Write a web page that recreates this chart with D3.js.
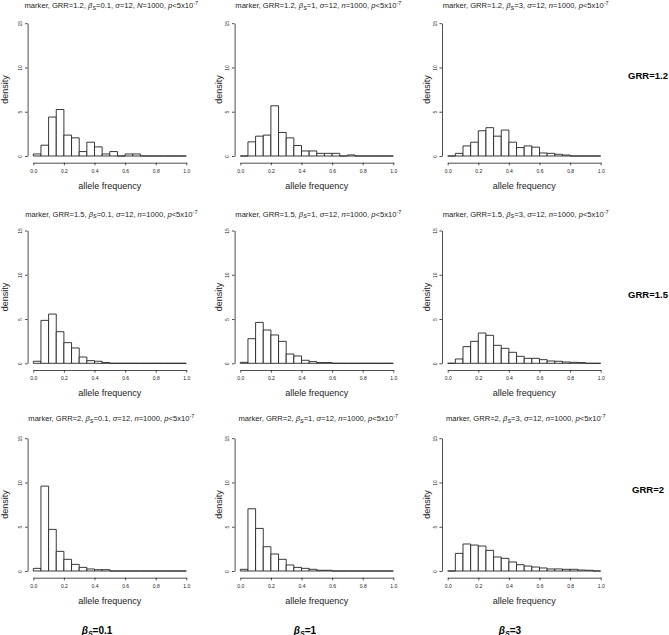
<!DOCTYPE html>
<html>
<head>
<meta charset="utf-8">
<script src="https://cdn.jsdelivr.net/npm/d3@7/dist/d3.min.js"></script>
<style>
  html, body { margin: 0; padding: 0; background: #fff; }
  svg { display: block; font-family: "Liberation Sans", Arial, Helvetica, sans-serif; }
</style>
</head>
<body>
<svg id="chart" width="669" height="635"></svg>
<script>
// ---- data ----
const breaks = [0,0.05,0.10,0.15,0.20,0.25,0.30,0.35,0.40,0.45,0.50,0.55,0.60,0.65,0.70,0.75,0.80,0.85,0.90,0.95,1.00];
const xTicks = [0.0,0.2,0.4,0.6,0.8,1.0];
const yTicks = [0,5,10,15];
const grrLevels = ["1.2","1.5","2"];
const betaLevels = ["0.1","1","3"];

const dens_GRR12_b01 = [0.23,1.22,4.40,5.25,2.36,2.05,0.50,1.56,1.03,0.23,0.50,0,0.23,0.23,0,0,0,0,0,0];
const dens_GRR12_b1  = [0,1.60,2.24,2.36,5.67,2.66,2.05,1.18,0.57,0.57,0.30,0.30,0.30,0,0.12,0,0,0,0,0];
const dens_GRR12_b3  = [0,0.30,1.14,1.56,2.85,3.20,2.24,2.93,1.56,0.95,1.14,1.00,0.34,0.30,0.19,0.11,0,0,0,0];
const dens_GRR15_b01 = [0.23,4.85,5.56,3.57,2.33,1.73,0.71,0.30,0.23,0.08,0,0,0,0,0,0,0,0,0,0];
const dens_GRR15_b1  = [0.11,2.78,4.62,3.76,3.20,2.48,1.05,0.83,0.34,0.19,0.08,0.08,0,0,0,0,0,0,0,0];
const dens_GRR15_b3  = [0,0.49,1.88,2.48,3.42,3.16,2.03,1.69,1.24,0.79,0.56,0.56,0.41,0.26,0.23,0.15,0.11,0.08,0,0];
const dens_GRR2_b01  = [0.30,9.59,4.70,2.22,1.32,0.75,0.41,0.23,0.15,0.15,0,0,0,0,0,0,0,0,0,0];
const dens_GRR2_b1   = [0.19,7.03,4.81,2.74,1.92,1.32,0.68,0.41,0.30,0.19,0.08,0.08,0,0,0,0,0,0,0,0];
const dens_GRR2_b3   = [0,1.99,3.05,2.93,2.82,2.33,1.58,1.43,1.02,0.71,0.56,0.45,0.34,0.23,0.23,0.19,0.19,0.11,0.08,0];

const panels = [
  [dens_GRR12_b01, dens_GRR12_b1, dens_GRR12_b3],
  [dens_GRR15_b01, dens_GRR15_b1, dens_GRR15_b3],
  [dens_GRR2_b01,  dens_GRR2_b1,  dens_GRR2_b3]
];

// ---- layout ----
const colX0 = [33.3, 240.3, 447.7];
const rowY0 = [156, 363.3, 571];
const plotW = 153, plotH15 = 132.8;
const densityX = [7.5, 221.5, 429.5];
const titleY = [8, 216.5, 421];
const grrY = [78.5, 297.5, 492.5];
const betaX = [97, 305, 510];
const ink = "#222";

const svg = d3.select("#chart");

function title(g, x, y, grr, beta, row, col) {
  const t = g.append("text").attr("x", x).attr("y", y).attr("text-anchor", "middle")
    .attr("font-size", 7.6).attr("fill", ink);
  const nLetter = (row === 0 && col === 0) ? "N" : "n";
  t.append("tspan").text("marker, GRR=" + grr + ", ");
  t.append("tspan").attr("font-style", "italic").text("β");
  t.append("tspan").attr("font-style", "italic").attr("font-size", 5.5).attr("dy", 1.6).text("S");
  t.append("tspan").attr("dy", -1.6).text("=" + beta + ", ");
  t.append("tspan").attr("font-style", "italic").text("σ");
  t.append("tspan").text("=12, ");
  t.append("tspan").attr("font-style", "italic").text(nLetter);
  t.append("tspan").text("=1000, ");
  t.append("tspan").attr("font-style", "italic").text("p");
  t.append("tspan").text("<5x10");
  t.append("tspan").attr("font-size", 5.5).attr("dy", -3).text("-7");
}

panels.forEach((rowData, r) => {
  rowData.forEach((dens, c) => {
    const x0 = colX0[c], y0 = rowY0[r];
    const x = d3.scaleLinear().domain([0, 1]).range([x0, x0 + plotW]);
    const y = d3.scaleLinear().domain([0, 15]).range([y0, y0 - plotH15]);
    const g = svg.append("g");

    // bars (paths so that zero-density bins still draw as a line, like R's hist)
    g.selectAll("path.bar").data(dens).enter().append("path")
      .attr("class", "bar")
      .attr("d", (d, i) => {
        const xa = x(breaks[i]), xb = x(breaks[i + 1]), yt = y(d), yb = y(0);
        return `M${xa},${yb}V${yt}H${xb}V${yb}Z`;
      })
      .attr("fill", "#fff").attr("stroke", ink).attr("stroke-width", 0.9);

    // x axis (detached, R style)
    const xa = g.append("g").attr("transform", `translate(0,${y0 + 6.7})`)
      .call(d3.axisBottom(x).tickValues(xTicks).tickSize(2.6).tickSizeOuter(0).tickFormat(d3.format(".1f")));
    xa.select(".domain").attr("stroke", ink).attr("stroke-width", 0.8);
    xa.selectAll(".tick line").attr("stroke", ink).attr("stroke-width", 0.8);
    xa.selectAll(".tick text").attr("font-size", 5).attr("fill", ink).attr("font-family", null).attr("y", 6.5);

    // y axis
    const ya = g.append("g").attr("transform", `translate(${x0 - 5.7},0)`)
      .call(d3.axisLeft(y).tickValues(yTicks).tickSize(2.6).tickSizeOuter(0));
    ya.select(".domain").attr("stroke", ink).attr("stroke-width", 0.8);
    ya.selectAll(".tick line").attr("stroke", ink).attr("stroke-width", 0.8);
    ya.selectAll(".tick text").attr("font-size", 5).attr("fill", ink).attr("font-family", null)
      .attr("x", null).attr("dy", null)
      .attr("text-anchor", "middle")
      .attr("transform", "translate(-5.2,0) rotate(-90)");

    // axis titles
    g.append("text").attr("x", x(0.5)).attr("y", y0 + 33)
      .attr("text-anchor", "middle").attr("font-size", 9).attr("fill", ink).text("allele frequency");
    g.append("text").attr("transform", `translate(${densityX[c]},${y(7.5)}) rotate(-90)`)
      .attr("text-anchor", "middle").attr("font-size", 9).attr("fill", ink).text("density");

    title(g, x0 + 78, titleY[r], grrLevels[r], betaLevels[c], r, c);
  });
});

// row labels
grrLevels.forEach((v, r) => {
  svg.append("text").attr("x", 648).attr("y", grrY[r]).attr("text-anchor", "middle")
    .attr("font-size", 9.5).attr("font-weight", "bold").attr("fill", "#000").text("GRR=" + v);
});

// column labels
betaLevels.forEach((v, c) => {
  const t = svg.append("text").attr("x", betaX[c]).attr("y", 633.5).attr("text-anchor", "middle")
    .attr("font-size", 10).attr("font-weight", "bold").attr("fill", "#000");
  t.append("tspan").attr("font-style", "italic").text("β");
  t.append("tspan").attr("font-style", "italic").attr("font-size", 7).attr("dy", 2).text("S");
  t.append("tspan").attr("dy", -2).text("=" + v);
});
</script>
</body>
</html>
